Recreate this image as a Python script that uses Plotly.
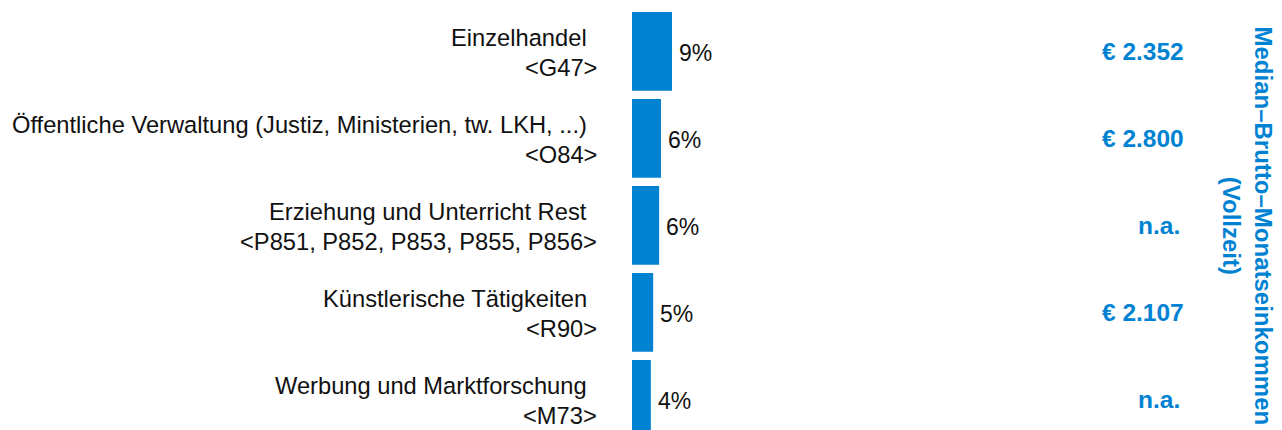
import plotly.graph_objects as go

categories = [
    "Einzelhandel",
    "Öffentliche Verwaltung (Justiz, Ministerien, tw. LKH, ...)",
    "Erziehung und Unterricht Rest",
    "Künstlerische Tätigkeiten",
    "Werbung und Marktforschung",
]
codes = ["<G47>", "<O84>", "<P851, P852, P853, P855, P856>", "<R90>", "<M73>"]
shares = [8.7, 6.3, 5.9, 4.6, 4.1]
share_labels = ["9%", "6%", "6%", "5%", "4%"]
income_labels = ["€ 2.352", "€ 2.800", "n.a.", "€ 2.107", "n.a."]
side_title = "Median–Brutto–Monatseinkommen<br>(Vollzeit)"

BLUE = "#0082D2"
FONT = "Liberation Sans, Arial, sans-serif"
# page body has an 8px margin: figure drawn at (8, 8)
W, H = 1274, 422
x0_px = 624
px_per_unit = 4.6
row_px = 87
first_center_px = 43.3

ypos = list(range(len(categories)))

fig = go.Figure(go.Bar(
    x=shares, y=ypos, orientation="h",
    marker=dict(color=BLUE, line=dict(width=0)),
    width=0.905, hoverinfo="skip",
))

ann = []
for i, (cat, code, v, lab, inc) in enumerate(zip(categories, codes, shares, share_labels, income_labels)):
    ann.append(dict(x=581 / W, xref="paper", y=i, yref="y", text=cat, showarrow=False,
                    xanchor="right", yanchor="middle", yshift=13,
                    font=dict(family=FONT, size=23.7, color="#111111")))
    ann.append(dict(x=591 / W, xref="paper", y=i, yref="y", text=code.replace("<", "&lt;").replace(">", "&gt;"),
                    showarrow=False, xanchor="right", yanchor="middle", yshift=-17,
                    font=dict(family=FONT, size=23.7, color="#111111")))
    ann.append(dict(x=v, xref="x", y=i, yref="y", text=lab, showarrow=False,
                    xanchor="left", yanchor="middle", xshift=5, yshift=-2,
                    font=dict(family=FONT, size=23, color="#111111")))
    xr = 1178 if inc.startswith("€") else 1174
    ann.append(dict(x=xr / W, xref="paper", y=i, yref="y", text="<b>" + inc + "</b>", showarrow=False,
                    xanchor="right", yanchor="middle",
                    font=dict(family=FONT, size=24.5, color=BLUE)))

ann.append(dict(x=1239.5 / W, xref="paper", y=1 - 218 / H, yref="paper", text="<b>" + side_title + "</b>",
                showarrow=False, textangle=90, xanchor="center", yanchor="middle",
                font=dict(family=FONT, size=24, color=BLUE)))

fig.update_layout(
    width=W, height=H,
    margin=dict(l=0, r=0, t=0, b=0),
    paper_bgcolor="white", plot_bgcolor="white",
    showlegend=False,
    xaxis=dict(range=[-x0_px / px_per_unit, (W - x0_px) / px_per_unit], visible=False, fixedrange=True),
    yaxis=dict(range=[(H - first_center_px) / row_px, -first_center_px / row_px], visible=False, fixedrange=True),
    annotations=ann,
)

fig.write_html("out.html")
